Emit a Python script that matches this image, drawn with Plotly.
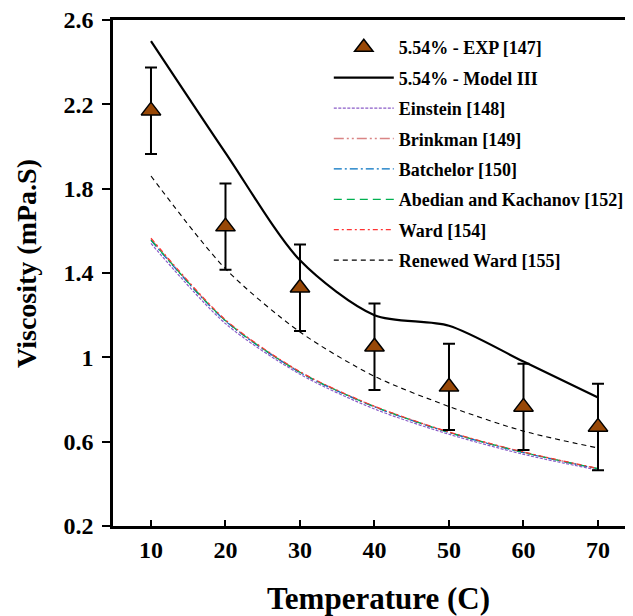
import plotly.graph_objects as go

temps = [10, 20, 30, 40, 50, 60, 70]
exp_vals = [2.17, 1.62, 1.33, 1.05, 0.86, 0.765, 0.67]
exp_err = [0.205, 0.205, 0.205, 0.205, 0.205, 0.205, 0.205]
model3 = [2.50, 1.97, 1.46, 1.20, 1.15, 0.98, 0.81]
einstein = [1.54, 1.16, 0.92, 0.755, 0.635, 0.54, 0.465]
brinkman = [1.56, 1.175, 0.93, 0.767, 0.645, 0.55, 0.472]
batchelor = [1.555, 1.172, 0.928, 0.765, 0.643, 0.548, 0.471]
abedian = [1.557, 1.174, 0.929, 0.766, 0.644, 0.549, 0.472]
ward = [1.565, 1.178, 0.932, 0.768, 0.646, 0.551, 0.473]
renewed_ward = [1.86, 1.42, 1.12, 0.91, 0.767, 0.65, 0.57]

y_ticks = [0.2, 0.6, 1.0, 1.4, 1.8, 2.2, 2.6]
y_ticktext = ["0.2", "0.6", "1", "1.4", "1.8", "2.2", "2.6"]
x_ticks = [10, 20, 30, 40, 50, 60, 70]

FONT = "Liberation Serif"

fig = go.Figure()

line_series = [
    ("<b>5.54% - Model III</b>", model3, "black", "solid", 2.2, 2),
    ("<b>Einstein [148]</b>", einstein, "#8A5CC8", "3px,1.5px", 1.2, 3),
    ("<b>Brinkman [149]</b>", brinkman, "#D98585", "10px,3px,2px,3px,2px,3px", 1.4, 4),
    ("<b>Batchelor [150]</b>", batchelor, "#0070C0", "8px,3px,2px,3px", 1.2, 5),
    ("<b>Abedian and Kachanov [152]</b>", abedian, "#00B050", "8px,5px", 1.2, 6),
    ("<b>Ward [154]</b>", ward, "#FF3333", "5px,3px,2px,3px", 1.2, 7),
    ("<b>Renewed Ward [155]</b>", renewed_ward, "black", "5px,4px", 1.1, 8),
]

for name, vals, color, dash, width, rank in line_series:
    fig.add_trace(go.Scatter(
        x=temps, y=vals, mode="lines", name=name, legendrank=rank,
        legendgroup=f"g{rank}",
        line=dict(color=color, dash=dash, width=width, shape="spline", smoothing=0.8),
    ))

fig.add_trace(go.Scatter(
    x=temps, y=exp_vals, mode="markers", name="<b>5.54% - EXP [147]</b>", legendrank=1,
    legendgroup="g1",
    marker=dict(symbol="triangle-up", size=17, color="#984807",
                line=dict(color="black", width=1.5)),
    error_y=dict(type="data", array=exp_err, visible=True, color="black",
                 thickness=2, width=6),
))

fig.update_layout(
    width=633, height=616,
    margin=dict(l=105, r=8, t=12, b=98, autoexpand=False),
    paper_bgcolor="white", plot_bgcolor="white",
    font=dict(family=FONT, color="black", weight="bold"),
    showlegend=True,
    legend=dict(
        x=0.415, y=0.982, xanchor="left", yanchor="top",
        bgcolor="rgba(0,0,0,0)", borderwidth=0,
        font=dict(family=FONT, size=18, color="black", weight="bold"),
        tracegroupgap=4, itemwidth=60,
    ),
    xaxis=dict(
        range=[4.9, 74.7], tickvals=x_ticks, ticks="inside", ticklen=6,
        tickwidth=2, tickcolor="black", showline=True, linewidth=2.5,
        linecolor="black", mirror=True, showgrid=False, zeroline=False,
        tickfont=dict(family=FONT, size=24, color="black", weight="bold"),
        ticklabelstandoff=0, ticklabeloverflow="allow",
    ),
    yaxis=dict(
        range=[0.2, 2.6], tickvals=y_ticks, ticktext=y_ticktext, ticks="outside",
        ticklen=8, tickwidth=2, tickcolor="black", showline=True, linewidth=2.5,
        linecolor="black", showgrid=False, zeroline=False,
        tickfont=dict(family=FONT, size=24, color="black", weight="bold"),
        ticklabelstandoff=4, ticklabeloverflow="allow",
    ),
    annotations=[
        dict(text="<b>Temperature (C)</b>", xref="paper", yref="paper",
             x=0.5115, y=-0.1423, xanchor="center", yanchor="middle",
             showarrow=False,
             font=dict(family=FONT, size=31, color="black", weight="bold")),
        dict(text="<b>Viscosity (mPa.S)</b>", xref="paper", yref="paper",
             x=-0.1654, y=0.5198, xanchor="center", yanchor="middle",
             textangle=-90, showarrow=False,
             font=dict(family=FONT, size=28, color="black", weight="bold")),
    ],
)

fig.write_html("out.html")
